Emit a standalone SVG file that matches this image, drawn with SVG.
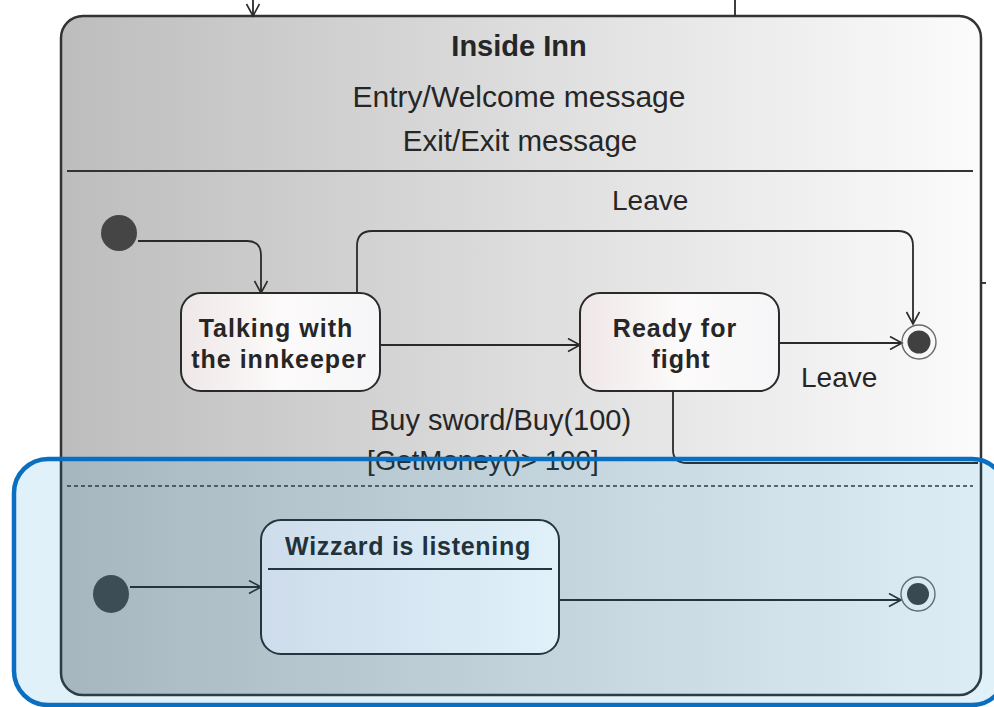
<svg xmlns="http://www.w3.org/2000/svg" width="994" height="707" viewBox="0 0 994 707">
<defs>
<linearGradient id="gOuter" x1="0" y1="0" x2="1" y2="0">
<stop offset="0" stop-color="#bdbdbd"/>
<stop offset="0.55" stop-color="#e0e0e0"/>
<stop offset="1" stop-color="#fbfbfb"/>
</linearGradient>
<linearGradient id="gState" x1="0" y1="0" x2="1" y2="0">
<stop offset="0" stop-color="#efe7e7"/>
<stop offset="0.5" stop-color="#fcfafa"/>
<stop offset="1" stop-color="#f6f6f8"/>
</linearGradient>
<linearGradient id="gWiz" x1="0" y1="0" x2="1" y2="0">
<stop offset="0" stop-color="#ebe8ee"/>
<stop offset="1" stop-color="#ffffff"/>
</linearGradient>
<marker id="arr" markerWidth="16" markerHeight="16" refX="13" refY="7" orient="auto" markerUnits="userSpaceOnUse">
<path d="M1,0.5 L13,7 L1,13.5" fill="none" stroke="#2a2a2a" stroke-width="1.6"/>
</marker>
</defs>
<style>
.ln{fill:none;stroke:#2a2a2a;stroke-width:1.8}
.box{stroke:#2a2a2a;stroke-width:2}
.t{font-family:"Liberation Sans",Arial,sans-serif;font-size:29px;fill:#262626}
.b{font-family:"Liberation Sans",Arial,sans-serif;font-size:25px;font-weight:bold;fill:#262626;letter-spacing:1px}
.init{fill:#454545}
.fin{fill:none;stroke:#6a6a6a;stroke-width:1.4}
</style>
<rect width="994" height="707" fill="#ffffff"/>

<g id="inside-inn">
<rect x="61" y="16" width="920" height="679" rx="22" ry="22" fill="url(#gOuter)" stroke="#333" stroke-width="2.5"/>
<text class="b" x="519" y="56" text-anchor="middle" style="font-size:29px;letter-spacing:0">Inside Inn</text>
<text class="t" x="519" y="107" text-anchor="middle" style="font-size:30px">Entry/Welcome message</text>
<text class="t" x="520" y="151" text-anchor="middle" style="font-size:29.5px">Exit/Exit message</text>
<line x1="67" y1="171" x2="973" y2="171" stroke="#333" stroke-width="2"/>
<line x1="67" y1="486" x2="973" y2="486" stroke="#333" stroke-width="1.5" stroke-dasharray="4 3"/>
</g>

<g id="connectors">
<path class="ln" d="M253,0 V16" marker-end="url(#arr)"/>
<path class="ln" d="M735,0 V16"/>
<path class="ln" d="M981,283 H986"/>
<path class="ln" d="M138,241 H247 Q261,241 261,255 V293" marker-end="url(#arr)"/>
<path class="ln" d="M357,293 V246 Q357,231 372,231 H898 Q913,231 913,246 V324" marker-end="url(#arr)"/>
<path class="ln" d="M380,345 H580" marker-end="url(#arr)"/>
<path class="ln" d="M779,343 H902" marker-end="url(#arr)"/>
<path class="ln" d="M673,391 V450 Q673,463 687,463 H978"/>
<path class="ln" d="M130,587 H261" marker-end="url(#arr)"/>
<path class="ln" d="M560,600 H901" marker-end="url(#arr)"/>
<text class="t" x="612" y="210" style="font-size:28px">Leave</text>
<text class="t" x="801" y="387" style="font-size:28px">Leave</text>
<text class="t" x="370" y="430">Buy sword/Buy(100)</text>
<text class="t" x="367" y="470" style="font-size:27.7px">[GetMoney()&gt; 100]</text>
</g>

<g id="initial-1"><circle class="init" cx="119" cy="233" r="18"/></g>
<g id="talking">
<rect class="box" x="181" y="293" width="199" height="98" rx="20" ry="20" fill="url(#gState)"/>
<text class="b" x="276" y="337" text-anchor="middle">Talking with</text>
<text class="b" x="279" y="368" text-anchor="middle">the innkeeper</text>
</g>
<g id="ready">
<rect class="box" x="580" y="293" width="199" height="98" rx="20" ry="20" fill="url(#gState)"/>
<text class="b" x="675" y="337" text-anchor="middle">Ready for</text>
<text class="b" x="681" y="368" text-anchor="middle">fight</text>
</g>
<g id="final-1">
<circle class="fin" cx="919" cy="342" r="17"/>
<circle cx="919" cy="342" r="11.5" fill="#404040"/>
</g>

<g id="initial-2"><ellipse class="init" cx="111" cy="594" rx="18" ry="19"/></g>
<g id="wizzard">
<rect class="box" x="261" y="520" width="298" height="134" rx="20" ry="20" fill="url(#gWiz)"/>
<text class="b" x="408" y="555" text-anchor="middle" style="letter-spacing:0.7px">Wizzard is listening</text>
<line x1="268" y1="569" x2="552" y2="569" stroke="#2a2a2a" stroke-width="2"/>
</g>
<g id="final-2">
<circle class="fin" cx="918" cy="594" r="17"/>
<circle cx="918" cy="594" r="11" fill="#404040"/>
</g>

<g id="highlight">
<rect x="14" y="459" width="992" height="246" rx="34" ry="34" fill="#008cd2" fill-opacity="0.12" stroke="#0a6fc0" stroke-width="4.5"/>
</g>
</svg>
